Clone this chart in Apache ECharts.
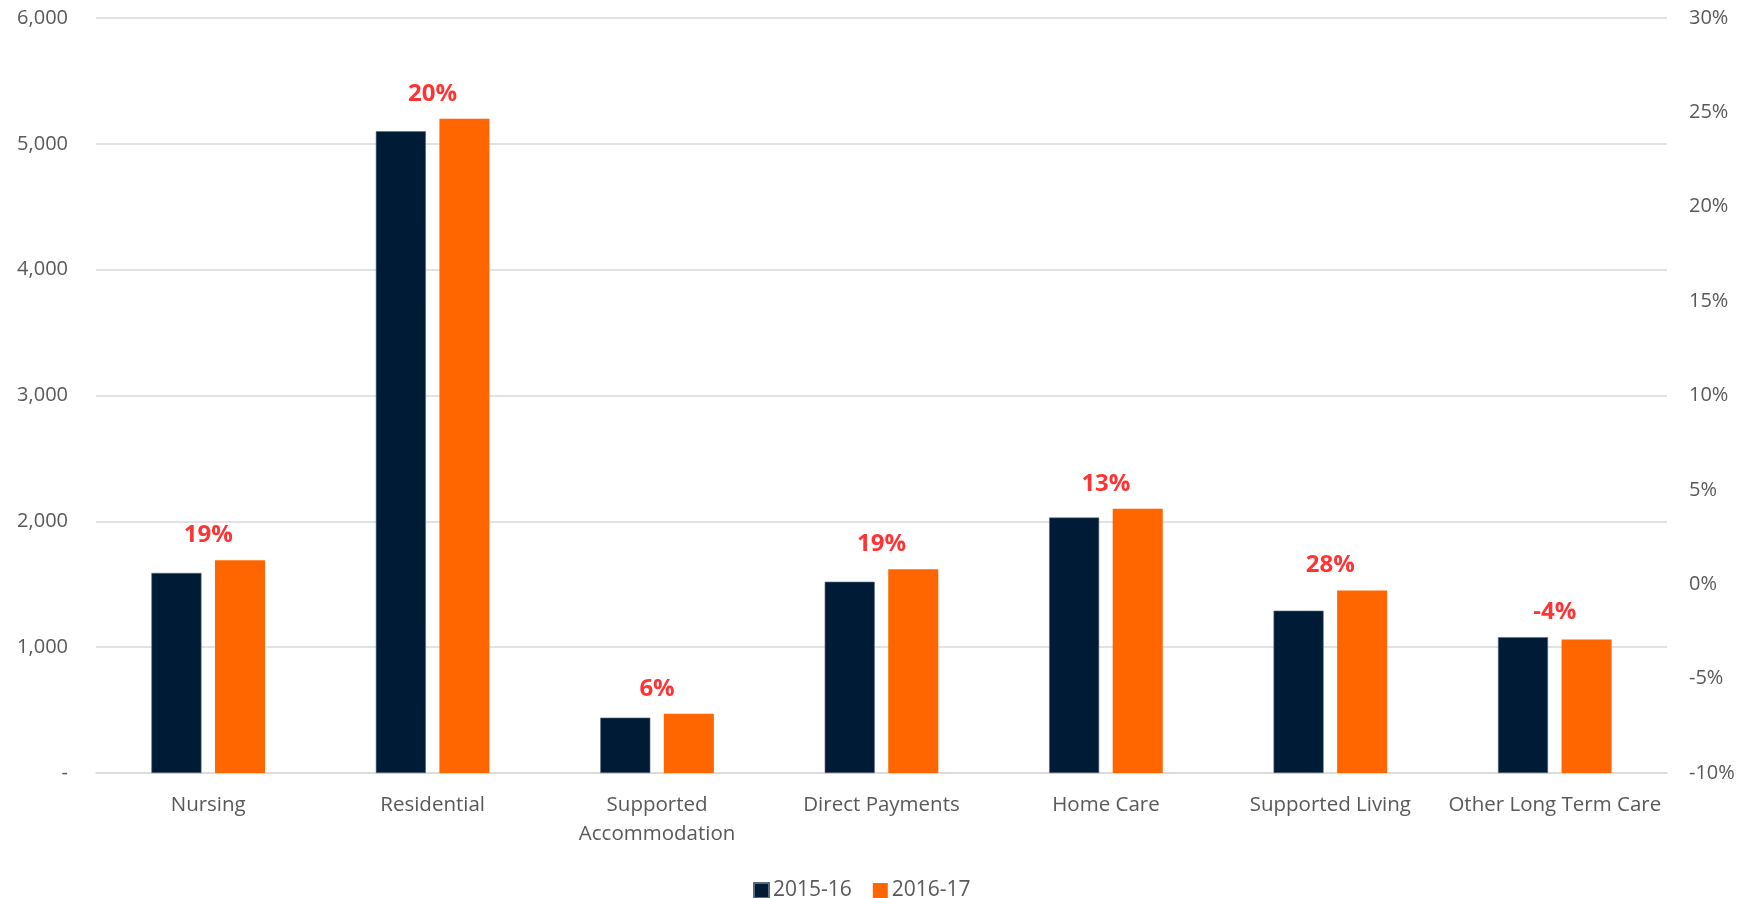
<!DOCTYPE html>
<html>
<head>
<meta charset="utf-8">
<title>Long term care spend</title>
<script src="https://cdn.jsdelivr.net/npm/echarts@6/dist/echarts.min.js"></script>
<style>
  html, body { margin: 0; padding: 0; background: #ffffff; }
  #chart { width: 1754px; height: 898px; }
</style>
</head>
<body>
<div id="chart"></div>
<script>
// Service categories along the x axis
const categories = [
  'Nursing',
  'Residential',
  'Supported\nAccommodation',
  'Direct Payments',
  'Home Care',
  'Supported Living',
  'Other Long Term Care'
];

// Spend per category for each year
const values2015 = [1590, 5100, 440, 1520, 2030, 1290, 1080];
const values2016 = [1690, 5200, 470, 1620, 2100, 1450, 1060];

// Percentage change shown above each category
const changePct = [19, 20, 6, 19, 13, 28, -4];

// Left axis ticks
const leftMin = 0, leftMax = 6000, leftStep = 1000;
// Right axis ticks (percent)
const rightMin = -10, rightMax = 30, rightStep = 5;

const FONT = '"Open Sans", Lato, sans-serif';
const TEXT = '#595959';

const chart = echarts.init(document.getElementById('chart'), null, { renderer: 'canvas' });

chart.setOption({
  animation: false,
  backgroundColor: '#ffffff',
  textStyle: { fontFamily: FONT },
  grid: { left: 96, right: 87, top: 18, bottom: 125, containLabel: false },
  legend: {
    data: ['2015-16', '2016-17'],
    top: 875,
    left: 748,
    itemWidth: 15,
    itemHeight: 15,
    itemGap: 21,
    icon: 'rect',
    textStyle: { fontFamily: FONT, fontSize: 21, color: TEXT, padding: [0, 0, 0, -1] }
  },
  xAxis: {
    type: 'category',
    data: categories,
    axisLine: { show: true, lineStyle: { color: '#d9d9d9', width: 1.5 } },
    axisTick: { show: false },
    axisLabel: {
      color: TEXT,
      fontFamily: FONT,
      fontSize: 20.5,
      lineHeight: 29,
      margin: 18,
      interval: 0
    }
  },
  yAxis: [
    {
      type: 'value',
      min: leftMin,
      max: leftMax,
      interval: leftStep,
      axisLine: { show: false },
      axisTick: { show: false },
      splitLine: { show: true, lineStyle: { color: '#d9d9d9', width: 1.5 } },
      axisLabel: {
        color: TEXT,
        fontFamily: FONT,
        fontSize: 20,
        margin: 28,
        formatter: v => v === 0 ? '-' : v.toLocaleString('en-US')
      }
    },
    {
      type: 'value',
      min: rightMin,
      max: rightMax,
      interval: rightStep,
      position: 'right',
      axisLine: { show: false },
      axisTick: { show: false },
      splitLine: { show: false },
      axisLabel: {
        color: TEXT,
        fontFamily: FONT,
        fontSize: 20,
        margin: 22,
        formatter: '{value}%'
      }
    }
  ],
  series: [
    {
      name: '2015-16',
      type: 'bar',
      data: values2015,
      barWidth: '22.3%',
      barGap: '27%',
      itemStyle: { color: '#001b35', borderColor: '#5a6b7d', borderWidth: 0.6 }
    },
    {
      name: '2016-17',
      type: 'bar',
      data: values2016,
      barWidth: '22.3%',
      barGap: '27%',
      itemStyle: { color: '#ff6600' }
    },
    {
      name: 'change',
      type: 'scatter',
      symbolSize: 0,
      data: values2015.map((v, i) => Math.max(v, values2016[i])),
      silent: true,
      label: {
        show: true,
        position: 'top',
        distance: 13,
        color: '#ff0000',
        fontFamily: FONT,
        fontSize: 24,
        fontWeight: 'bold',
        formatter: p => changePct[p.dataIndex] + '%'
      }
    }
  ]
});
</script>
</body>
</html>
